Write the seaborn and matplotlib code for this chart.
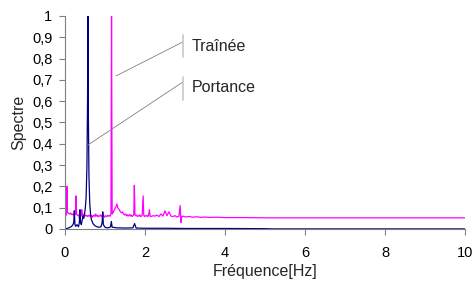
import matplotlib
matplotlib.use("Agg")
import matplotlib.pyplot as plt
import seaborn as sns
import pandas as pd

# Traînée (drag) spectrum
trainee_f = [0.02, 0.04, 0.05, 0.06, 0.08, 0.10, 0.12, 0.14, 0.16, 0.18, 0.20, 0.22, 0.24, 0.26, 0.275,
             0.29, 0.31, 0.33, 0.35, 0.37, 0.39, 0.41, 0.42, 0.43, 0.45, 0.47, 0.49, 0.51, 0.53, 0.55,
             0.57, 0.59, 0.61, 0.63, 0.65, 0.67, 0.69, 0.71, 0.73, 0.75, 0.77, 0.79, 0.81, 0.83, 0.85,
             0.87, 0.89, 0.91, 0.93, 0.95, 0.97, 0.99, 1.01, 1.03, 1.05, 1.07, 1.09, 1.11, 1.13, 1.15,
             1.165, 1.18, 1.20, 1.22, 1.24, 1.26, 1.28, 1.30, 1.32, 1.34, 1.36, 1.38, 1.40, 1.42, 1.44,
             1.46, 1.48, 1.50, 1.52, 1.54, 1.56, 1.58, 1.60, 1.62, 1.64, 1.66, 1.68, 1.70, 1.72, 1.735,
             1.75, 1.77, 1.79, 1.81, 1.83, 1.85, 1.87, 1.89, 1.91, 1.93, 1.955, 1.97, 1.99, 2.01, 2.03,
             2.05, 2.07, 2.09, 2.11, 2.13, 2.15, 2.20, 2.25, 2.30, 2.35, 2.40, 2.45, 2.50, 2.55, 2.60,
             2.65, 2.70, 2.75, 2.80, 2.85, 2.88, 2.90, 2.92, 2.96, 3.00, 3.10, 3.20, 3.30, 3.40, 3.50,
             3.60, 3.80, 4.00, 4.50, 5.00, 6.00, 7.00, 8.00, 9.00, 10.00]
trainee_v = [0.060, 0.070, 0.200, 0.080, 0.075, 0.072, 0.070, 0.075, 0.068, 0.070, 0.066, 0.070, 0.065, 0.068, 0.155,
             0.070, 0.064, 0.066, 0.060, 0.045, 0.065, 0.062, 0.090, 0.060, 0.070, 0.058, 0.062, 0.065, 0.060, 0.063,
             0.058, 0.064, 0.060, 0.066, 0.058, 0.063, 0.055, 0.062, 0.065, 0.058, 0.070, 0.060, 0.064, 0.057, 0.062,
             0.060, 0.066, 0.058, 0.063, 0.068, 0.060, 0.055, 0.062, 0.060, 0.058, 0.064, 0.060, 0.062, 0.060, 0.070,
             1.000, 0.070, 0.075, 0.085, 0.090, 0.100, 0.105, 0.117, 0.100, 0.095, 0.090, 0.082, 0.078, 0.075, 0.080,
             0.072, 0.068, 0.065, 0.070, 0.062, 0.066, 0.060, 0.064, 0.068, 0.060, 0.065, 0.058, 0.062, 0.065, 0.205,
             0.068, 0.062, 0.064, 0.058, 0.062, 0.060, 0.066, 0.058, 0.060, 0.062, 0.155, 0.065, 0.058, 0.062, 0.060,
             0.064, 0.058, 0.062, 0.090, 0.060, 0.058, 0.062, 0.060, 0.065, 0.058, 0.070, 0.060, 0.085, 0.062, 0.080,
             0.060, 0.058, 0.062, 0.056, 0.060, 0.110, 0.030, 0.058, 0.060, 0.056, 0.058, 0.055, 0.057, 0.054, 0.056,
             0.054, 0.055, 0.053, 0.053, 0.052, 0.052, 0.052, 0.052, 0.052, 0.052]

# Portance (lift) spectrum
portance_f = [0.00, 0.05, 0.10, 0.15, 0.18, 0.20, 0.22, 0.235, 0.25, 0.27, 0.30, 0.32, 0.34, 0.36, 0.375,
              0.39, 0.41, 0.43, 0.45, 0.47, 0.49, 0.51, 0.53, 0.55, 0.565, 0.575, 0.585, 0.60, 0.62, 0.64,
              0.66, 0.70, 0.75, 0.80, 0.85, 0.90, 0.93, 0.945, 0.96, 1.00, 1.05, 1.10, 1.14, 1.16, 1.18,
              1.30, 1.50, 1.70, 1.74, 1.78, 2.00, 2.50, 3.00, 4.00, 5.00, 5.20, 10.00]
portance_v = [0.000, 0.002, 0.005, 0.010, 0.015, 0.020, 0.030, 0.085, 0.020, 0.012, 0.020, 0.015, 0.010, 0.030, 0.090,
              0.030, 0.020, 0.040, 0.060, 0.050, 0.070, 0.100, 0.150, 0.300, 0.600, 1.000, 0.550, 0.250, 0.120, 0.070,
              0.045, 0.025, 0.015, 0.010, 0.008, 0.010, 0.030, 0.080, 0.020, 0.008, 0.005, 0.006, 0.010, 0.035, 0.008,
              0.005, 0.004, 0.005, 0.025, 0.004, 0.003, 0.003, 0.002, 0.002, 0.001, 0.000, 0.000]

y_ticks = [0, 0.1, 0.2, 0.3, 0.4, 0.5, 0.6, 0.7, 0.8, 0.9, 1.0]
y_labels = ["0", "0,1", "0,2", "0,3", "0,4", "0,5", "0,6", "0,7", "0,8", "0,9", "1"]
x_ticks = [0, 2, 4, 6, 8, 10]

sns.set_theme(style="white")
plt.rcParams["font.family"] = ["Liberation Sans", "DejaVu Sans"]

fig = plt.figure(figsize=(4.74, 2.84), dpi=100)
ax = fig.add_axes([0.137, 0.194, 0.844, 0.750])

df_t = pd.DataFrame({"f": trainee_f, "v": trainee_v})
df_p = pd.DataFrame({"f": portance_f, "v": portance_v})
sns.lineplot(data=df_t, x="f", y="v", ax=ax, color="#FF00FF", linewidth=0.9,
             estimator=None, sort=False)
sns.lineplot(data=df_p, x="f", y="v", ax=ax, color="#000080", linewidth=0.9,
             estimator=None, sort=False)

ax.set_xlim(0, 10)
ax.set_ylim(0, 1)
ax.set_xticks(x_ticks)
ax.set_xticklabels([str(t) for t in x_ticks])
ax.set_yticks(y_ticks)
ax.set_yticklabels(y_labels)
ax.tick_params(axis="both", which="major", labelsize=10.5, length=4, width=0.8,
               color="#808080", direction="out", pad=5, labelcolor="black")
ax.tick_params(axis="x", pad=8)
ax.tick_params(bottom=True, left=True)
for s in ["top", "right"]:
    ax.spines[s].set_visible(False)
for s in ["left", "bottom"]:
    ax.spines[s].set_color("#808080")
    ax.spines[s].set_linewidth(0.8)

ax.set_xlabel("Fréquence[Hz]", fontsize=11.5, labelpad=3)
ax.set_ylabel("Spectre", fontsize=11.5, labelpad=4)

# Annotations (leader lines and labels)
ax.plot([1.275, 2.95], [0.718, 0.878], color="#808080", linewidth=0.6, clip_on=False)
ax.plot([2.95, 2.95], [0.807, 0.91], color="#C8C8C8", linewidth=1.2, clip_on=False)
ax.text(3.175, 0.856, "Traînée", fontsize=11.5, va="center", ha="left")
ax.plot([0.575, 2.95], [0.394, 0.69], color="#808080", linewidth=0.6, clip_on=False)
ax.plot([2.95, 2.95], [0.606, 0.714], color="#C8C8C8", linewidth=1.2, clip_on=False)
ax.text(3.175, 0.662, "Portance", fontsize=11.5, va="center", ha="left")

fig.savefig("out.png", dpi=100, facecolor="white")
